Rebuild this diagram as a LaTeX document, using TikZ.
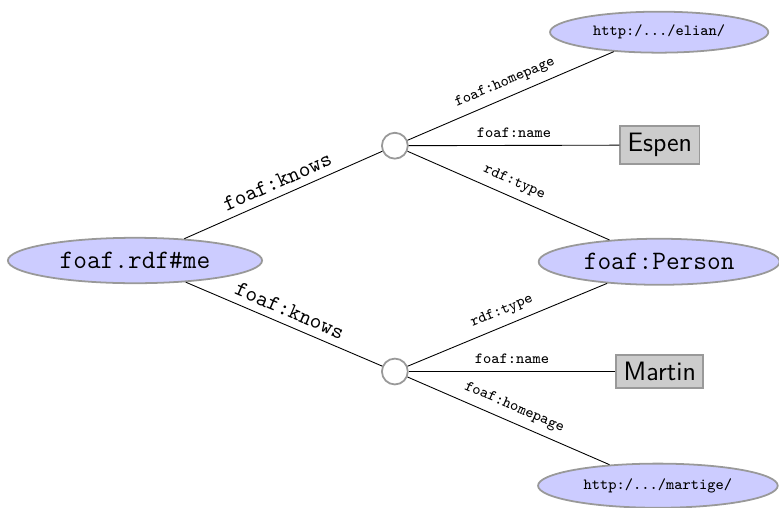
\documentclass[tikz,border=0pt]{standalone}
\usetikzlibrary{shapes.geometric}

\begin{document}
\begin{tikzpicture}[
    res/.style={ellipse, draw=gray!80, thick, fill=blue!20, font=\large\ttfamily},
    lit/.style={rectangle, draw=gray!80, thick, fill=black!20, font=\large\sffamily},
    bnode/.style={circle, draw=gray!80, thick, fill=white, minimum size=0.41cm, inner sep=0pt},
    prop/.style={midway, above, sloped, font=\scriptsize\ttfamily},
    knows/.style={midway, above, sloped, font=\ttfamily}]
    \useasboundingbox (0,0) rectangle (12.35,8.05);

    % Субъект слева
    \node[res, minimum width=4.03cm, minimum height=0.72cm] (me) at (2.14,3.92) {foaf.rdf\#me};

    % Пустые узлы
    \node[bnode] (b1) at (6.26,5.74) {};
    \node[bnode] (b2) at (6.26,2.16) {};

    % Объекты справа
    \node[res, minimum width=3.46cm, minimum height=0.60cm, font=\scriptsize\ttfamily] (elian) at (10.45,7.54) {http:/.../elian/};
    \node[lit] (espen) at (10.46,5.75) {Espen};
    \node[res, minimum width=3.82cm, minimum height=0.73cm] (person) at (10.45,3.90) {foaf:Person};
    \node[lit] (martin) at (10.46,2.16) {Martin};
    \node[res, minimum width=3.80cm, minimum height=0.70cm, font=\scriptsize\ttfamily] (martige) at (10.43,0.35) {http:/.../martige/};

    % Рёбра от субъекта
    \draw (me) -- (b1) node[knows] {foaf:knows};
    \draw (me) -- (b2) node[knows] {foaf:knows};

    % Рёбра от первого пустого узла
    \draw (b1) -- (elian) node[prop] {foaf:homepage};
    \draw (b1) -- (espen) node[prop] {foaf:name};
    \draw (b1) -- (person) node[prop] {rdf:type};

    % Рёбра от второго пустого узла
    \draw (b2) -- (person) node[prop] {rdf:type};
    \draw (b2) -- (martin) node[prop] {foaf:name};
    \draw (b2) -- (martige) node[prop] {foaf:homepage};
\end{tikzpicture}
\end{document}
